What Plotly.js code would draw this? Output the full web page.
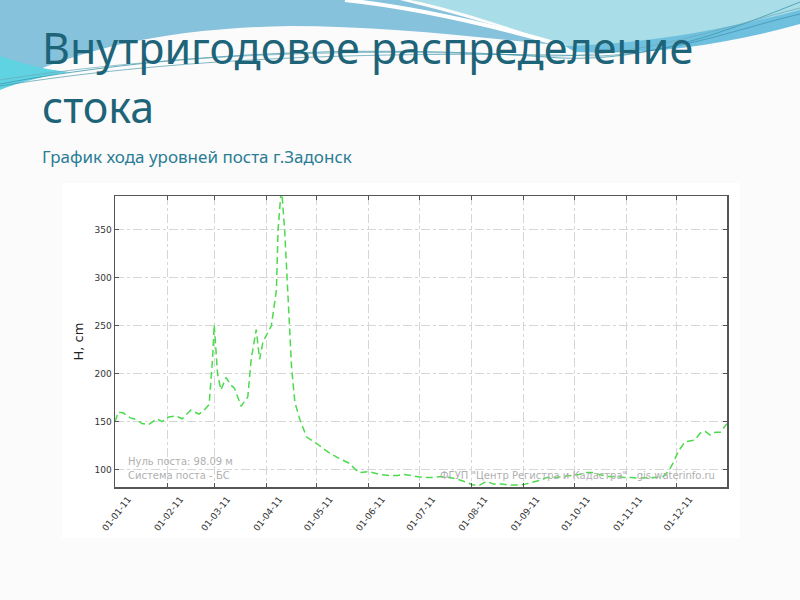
<!DOCTYPE html>
<html>
<head>
<meta charset="utf-8">
<script src="https://cdn.plot.ly/plotly-3.0.1.min.js"></script>
<style>
  html, body { margin: 0; padding: 0; background: #fbfbfb; }
  #chart { width: 800px; height: 600px; }
</style>
</head>
<body>
<div id="chart"></div>
<script>
// ---- data (level H, cm; year 2011) ----
const dates = [
  '2011-01-01','2011-01-03','2011-01-06','2011-01-10','2011-01-14','2011-01-17','2011-01-21','2011-01-26','2011-01-29',
  '2011-02-02','2011-02-06','2011-02-10','2011-02-15','2011-02-20','2011-02-23','2011-02-26','2011-02-28',
  '2011-03-01','2011-03-03','2011-03-05','2011-03-08','2011-03-11','2011-03-13','2011-03-17','2011-03-21','2011-03-23',
  '2011-03-26','2011-03-28','2011-03-30',
  '2011-04-04','2011-04-07','2011-04-08','2011-04-10','2011-04-12','2011-04-14','2011-04-16','2011-04-18','2011-04-21','2011-04-25',
  '2011-05-02','2011-05-08','2011-05-14','2011-05-20','2011-05-26',
  '2011-06-01','2011-06-08','2011-06-13','2011-06-18','2011-06-22','2011-06-28',
  '2011-07-03','2011-07-09','2011-07-14','2011-07-19','2011-07-24','2011-07-29',
  '2011-08-02','2011-08-06','2011-08-10','2011-08-14','2011-08-19','2011-08-24','2011-08-29',
  '2011-09-02','2011-09-06','2011-09-11','2011-09-15','2011-09-20','2011-09-25','2011-09-30',
  '2011-10-04','2011-10-08','2011-10-12','2011-10-16','2011-10-21','2011-10-26','2011-10-31',
  '2011-11-04','2011-11-09','2011-11-14','2011-11-19','2011-11-23','2011-11-26','2011-11-29',
  '2011-12-02','2011-12-06','2011-12-09','2011-12-12','2011-12-15','2011-12-18','2011-12-21','2011-12-24','2011-12-27','2011-12-30','2011-12-31'
];
const levels = [
  150,160,159,154,152,148,147,153,150,
  155,156,153,162,158,162,168,215,
  251,200,183,196,188,185,166,176,215,
  246,215,233,
  250,287,350,395,347,277,207,170,152,134,
  126,118,112,107,97,
  98,95,94,94,95,93,
  92,92,93,92,90,87,
  84,84,88,85,85,84,84,
  85,87,89,92,92,93,94,
  95,97,97,95,93,93,92,
  92,91,92,92,93,98,107,
  119,129,130,131,138,140,136,139,139,146,148
];
const monthTicks = ['2011-01-01','2011-02-01','2011-03-01','2011-04-01','2011-05-01','2011-06-01',
                    '2011-07-01','2011-08-01','2011-09-01','2011-10-01','2011-11-01','2011-12-01'];
const monthLabels = ['01-01-11','01-02-11','01-03-11','01-04-11','01-05-11','01-06-11',
                     '01-07-11','01-08-11','01-09-11','01-10-11','01-11-11','01-12-11'];
const yTicks = [100,150,200,250,300,350];
const titleLines = ['Внутригодовое распределение', 'стока'];
const subtitleText = 'График хода уровней поста г.Задонск';

// ---- layout helpers (pixel -> paper coordinates for decorations/text) ----
const W = 800, H = 600, L = 115, R = 73, T = 196, B = 113;
const PW = W - L - R, PH = H - T - B;
const pxn = x => (x - L) / PW;
const pyn = y => (H - B - y) / PH;
function pathPx(d) {
  return d.replace(/(-?\d+(?:\.\d+)?),(-?\d+(?:\.\d+)?)/g,
    (m, a, b) => pxn(+a).toFixed(4) + ',' + pyn(+b).toFixed(4));
}
function deco(d, fill, line, lw) {
  return { type: 'path', xref: 'paper', yref: 'paper', layer: 'below', path: pathPx(d),
           fillcolor: fill || 'rgba(0,0,0,0)', line: { color: line || 'rgba(0,0,0,0)', width: lw || 0 } };
}

const shapes = [
  deco('M0,0 L400,0 C450,12 510,30 565,46 C470,36 380,26 290,26 C180,28 80,45 0,88 Z', '#86c2dc'),
  deco('M410,0 L800,0 L800,12 C720,32 640,46 565,46 C510,28 460,10 410,0 Z', '#a9dde7'),
  deco('M565,46 C650,44 730,28 800,10 L800,24 C730,44 650,56 575,52 Z', '#6fc0df'),
  deco('M0,56 C25,64 45,70 70,72 C45,76 20,82 0,90 Z', '#5fd3e2'),
  deco('M345,0 C420,8 495,26 565,46', null, '#ffffff', 4),
  deco('M0,84 C150,56 350,42 560,58 C650,62 730,30 800,2', null, '#3c98ad', 0.8),
  deco('M0,80 C140,58 330,46 540,56 C640,58 720,28 800,8', null, '#6aa8b8', 0.7),
  deco('M0,86 C160,60 360,50 600,56 C680,52 740,28 800,14', null, '#2f8aa3', 0.6),
  deco('M62,183 L740,183 L740,538 L62,538 Z', '#ffffff')
];

const trace = {
  type: 'scatter', mode: 'lines', x: dates, y: levels,
  line: { color: '#4cdb4c', width: 1.5, dash: '7px,4px' },
  hoverinfo: 'x+y', showlegend: false
};

const greyText = { family: 'DejaVu Sans, sans-serif', size: 10, color: '#b0b0b0' };
const titleFont = { family: 'Noto Sans, sans-serif', size: 43, color: '#1e6479' };
const layout = {
  width: W, height: H,
  paper_bgcolor: '#fbfbfb', plot_bgcolor: '#ffffff',
  margin: { l: L, r: R, t: T, b: B, pad: 0 },
  xaxis: {
    type: 'date', range: ['2011-01-01', '2011-12-31'],
    tickmode: 'array', tickvals: monthTicks, ticktext: monthLabels, tickangle: -52,
    ticklabelshift: 13, ticklabelstandoff: 2,
    tickfont: { family: 'DejaVu Sans, sans-serif', size: 9, color: '#333' },
    ticks: 'inside', ticklen: 4, tickcolor: '#555', mirror: 'ticks',
    showline: true, linecolor: '#555', linewidth: 1.5,
    showgrid: true, gridcolor: '#d6d6d6', griddash: 'dashdot', gridwidth: 1,
    zeroline: false, fixedrange: true
  },
  yaxis: {
    range: [82, 385],
    tickmode: 'array', tickvals: yTicks,
    tickfont: { family: 'DejaVu Sans, sans-serif', size: 9, color: '#333' },
    ticks: 'inside', ticklen: 4, tickcolor: '#555', mirror: 'ticks',
    showline: true, linecolor: '#555', linewidth: 1.5,
    showgrid: true, gridcolor: '#d6d6d6', griddash: 'dashdot', gridwidth: 1,
    zeroline: false, fixedrange: true,
    title: { text: 'H, cm', font: { family: 'DejaVu Sans, sans-serif', size: 13, color: '#222' }, standoff: 8 }
  },
  shapes: shapes,
  annotations: [
    { xref: 'paper', yref: 'paper', x: pxn(40), y: pyn(47), xanchor: 'left', yanchor: 'middle',
      text: titleLines[0], showarrow: false, font: titleFont },
    { xref: 'paper', yref: 'paper', x: pxn(40), y: pyn(106), xanchor: 'left', yanchor: 'middle',
      text: titleLines[1], showarrow: false, font: titleFont },
    { xref: 'paper', yref: 'paper', x: pxn(40), y: pyn(156), xanchor: 'left', yanchor: 'middle',
      text: subtitleText, showarrow: false,
      font: { family: 'Noto Sans, sans-serif', size: 17, color: '#2a7c94' } },
    { xref: 'paper', yref: 'paper', x: 0.018, y: 0.086, xanchor: 'left', yanchor: 'middle',
      text: 'Нуль поста: 98.09 м', showarrow: false, font: greyText },
    { xref: 'paper', yref: 'paper', x: 0.018, y: 0.038, xanchor: 'left', yanchor: 'middle',
      text: 'Система поста - БС', showarrow: false, font: greyText },
    { xref: 'paper', yref: 'paper', x: 0.984, y: 0.038, xanchor: 'right', yanchor: 'middle',
      text: 'ФГУП "Центр Регистра и Кадастра"   gis.waterinfo.ru', showarrow: false, font: greyText }
  ]
};

Plotly.newPlot('chart', [trace], layout, { displayModeBar: false, staticPlot: true });
</script>
</body>
</html>
